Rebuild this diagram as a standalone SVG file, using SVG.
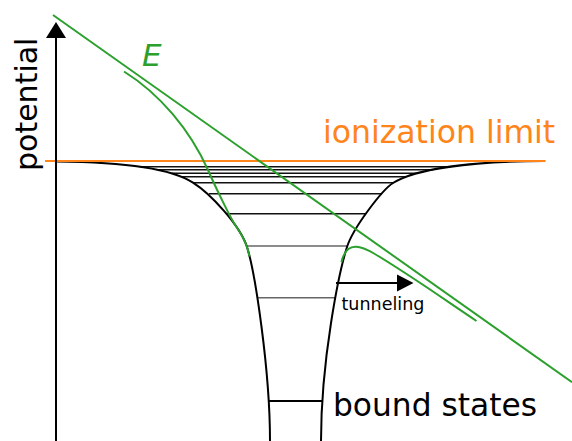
<svg xmlns="http://www.w3.org/2000/svg" width="572" height="441" viewBox="0 0 572 441">
<style>
.blk{fill:none;stroke:#000;stroke-width:2}
.lvl{fill:none;stroke:#111;stroke-width:1.4}
.lvlf{fill:none;stroke:#666;stroke-width:1.5}
.grn{fill:none;stroke:#2ca02c;stroke-width:2}
.org{fill:none;stroke:#ff8419;stroke-width:2}
text{font-family:"DejaVu Sans","Verdana",sans-serif}
</style>
<rect width="572" height="441" fill="#fff"/>
<g id="levels">
<line class="lvl" x1="140" y1="166.7" x2="451" y2="166.7"/>
<line class="lvl" x1="158" y1="169.7" x2="433" y2="169.7"/>
<line class="lvl" x1="172" y1="173.3" x2="417" y2="173.3"/>
<line class="lvl" x1="182" y1="176.7" x2="406" y2="176.7"/>
<line class="lvl" x1="193" y1="182.7" x2="393.5" y2="182.7"/>
<line class="lvl" x1="209" y1="193.7" x2="381.5" y2="193.7"/>
<line class="lvl" x1="226.5" y1="213.7" x2="365.7" y2="213.7"/>
<line class="lvlf" x1="246.7" y1="246" x2="347.3" y2="246"/>
<line class="lvlf" x1="257" y1="297.7" x2="335.5" y2="297.7"/>
<line class="blk" x1="268.5" y1="401" x2="322.5" y2="401"/>
</g>
<g id="potential-well">
<path class="blk" d="M57,161.5 C115,162 170,167.5 193,182.7 C210,193.5 240,225 247,247 C255,272 270,370 270,441"/>
<path class="blk" d="M545,161 C470,161.5 415,169 393,183 C382,190 353,228 347,247 C339,272 321,360 321,441"/>
</g>
<g id="ionization-limit">
<line class="org" x1="45" y1="161" x2="545.5" y2="161"/>
<text x="323" y="143" font-size="31.5" fill="#ff8419">ionization limit</text>
</g>
<g id="field">
<line class="grn" x1="53" y1="15" x2="572" y2="382.2"/>
<path class="grn" d="M124,71.5 C160,94 190,130 208,170 C215,186 230.3,217.9 235.5,225.45 C240.73,233 244.9,240.4 247,247 C247.8,249.5 248.67,252.73 249.6,256.6"/>
<path class="grn" d="M341.5,262 C344,251 349,246.5 356,246.8 C362,247 367,249.5 374,253.5 C410,275 445,300 476.5,321"/>
<text x="142" y="66" font-size="31" font-style="italic" fill="#2ca02c">E</text>
</g>
<g id="axis">
<line class="blk" x1="56" y1="441" x2="56" y2="36"/>
<polygon points="56,22 46,38 66,38" fill="#000"/>
<text transform="translate(37,171) rotate(-90)" font-size="30" fill="#000">potential</text>
</g>
<g id="connectors">
<line class="blk" x1="336" y1="283" x2="399" y2="283"/>
<polygon points="413.5,283 397,274.5 397,291.5" fill="#000"/>
</g>
<g id="tunneling-label">
<text x="341.5" y="310" font-size="17.5" fill="#000">tunneling</text>
</g>
<g id="bound-states-label">
<text x="333" y="416" font-size="31.3" fill="#000">bound states</text>
</g>
</svg>
